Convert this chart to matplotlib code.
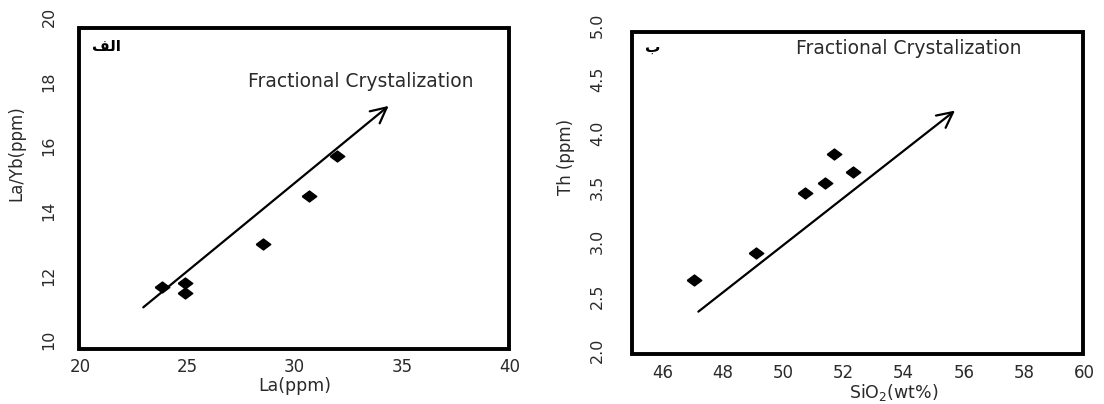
import matplotlib
matplotlib.use("Agg")
import matplotlib.pyplot as plt
from matplotlib.patches import Rectangle

plt.rcParams['font.family'] = ['DejaVu Sans']
plt.rcParams['mathtext.default'] = 'regular'

# panel a (الف): La vs La/Yb
la = [23.81, 24.89, 24.89, 28.54, 30.68, 31.97]
la_yb = [11.63, 11.75, 11.44, 12.96, 14.45, 15.69]
arrow_a = [(22.95, 11.01), (34.38, 17.24)]
xticks_a = [20, 25, 30, 35, 40]
yticks_a = [10, 12, 14, 16, 18, 20]

# panel b (ب): SiO2 vs Th
sio2 = [47.06, 49.09, 50.71, 51.38, 51.69, 52.32]
th = [2.646, 2.893, 3.447, 3.545, 3.810, 3.646]
arrow_b = [(47.19, 2.354), (55.70, 4.21)]
xticks_b = [46, 48, 50, 52, 54, 56, 58, 60]
yticks_b = [2.0, 2.5, 3.0, 3.5, 4.0, 4.5, 5.0]

label_txt = "Fractional Crystalization"
alef_lam_feh = "\uFED2\uFEDF\uFE8D"   # الف shaped, visual order
beh = "\uFE8F"                         # ب

# flattened diamond, like the original markers
diamond = [(-1, 0), (0, 0.75), (1, 0), (0, -0.75), (-1, 0)]

fig = plt.figure(figsize=(11.04, 4.04), dpi=100)
fig.patch.set_facecolor('white')

txt_col = '#2a2a2a'


def panel(rect, xlim, ylim, box, xs, ys, arr, xt, yt, ytfmt, ypad,
          xlabel, ylabel, xlab_pos, ylab_pos, txt_pos, tag, tag_pos):
    ax = fig.add_axes(rect)
    ax.set_xlim(*xlim)
    ax.set_ylim(*ylim)
    for s in ax.spines.values():
        s.set_visible(False)
    ax.add_patch(Rectangle((box[0], box[1]), box[2] - box[0], box[3] - box[1],
                           fill=False, lw=2.8, ec='black', clip_on=False, zorder=5))
    ax.plot(xs, ys, ls='none', marker=diamond, ms=10.5, color='black', zorder=4)
    ax.annotate('', xy=arr[1], xytext=arr[0],
                arrowprops=dict(arrowstyle='->', lw=1.6, color='black',
                                mutation_scale=28, shrinkA=0, shrinkB=0))
    ax.text(txt_pos[0], txt_pos[1], label_txt, fontsize=13.5, color=txt_col,
            ha='left', va='center')
    ax.text(tag_pos[0], tag_pos[1], tag, fontsize=11, fontweight='bold',
            ha='left', va='center', color='black')
    ax.set_xticks(xt)
    ax.set_yticks(yt)
    ax.set_yticklabels([ytfmt.format(v) for v in yt])
    ax.tick_params(axis='both', length=0, colors=txt_col)
    ax.tick_params(axis='x', pad=7, labelsize=12)
    ax.tick_params(axis='y', pad=ypad, labelrotation=90, labelsize=11.5)
    for lbl in ax.get_yticklabels():
        lbl.set_va('center')
    ax.set_xlabel(xlabel, fontsize=12.5, color=txt_col)
    ax.set_ylabel(ylabel, fontsize=12, color=txt_col)
    ax.xaxis.set_label_coords(*xlab_pos)
    ax.yaxis.set_label_coords(*ylab_pos)
    return ax


panel([79.3 / 1104, 55.5 / 404, 430 / 1104, 332.5 / 404],
      (19.97, 40.0), (9.737, 20.02), (19.97, 9.737, 40.0, 19.65),
      la, la_yb, arrow_a, xticks_a, yticks_a, "{:g}", 16.5,
      "La(ppm)", "La/Yb(ppm)", (0.5, -0.086), (-0.126, 0.588),
      (27.84, 17.99), alef_lam_feh, (20.56, 19.09))

panel([632 / 1104, 50 / 404, 452.7 / 1104, 331.2 / 404],
      (44.99, 59.94), (1.963, 5.02), (44.99, 1.963, 59.94, 4.939),
      sio2, th, arrow_b, xticks_b, yticks_b, "{:.1f}", 19.5,
      "SiO$_{2}$(wt%)", "Th (ppm)", (0.579, -0.086), (-0.126, 0.595),
      (50.44, 4.786), beh, (45.42, 4.79))

fig.savefig("out.png", dpi=100, facecolor='white')
